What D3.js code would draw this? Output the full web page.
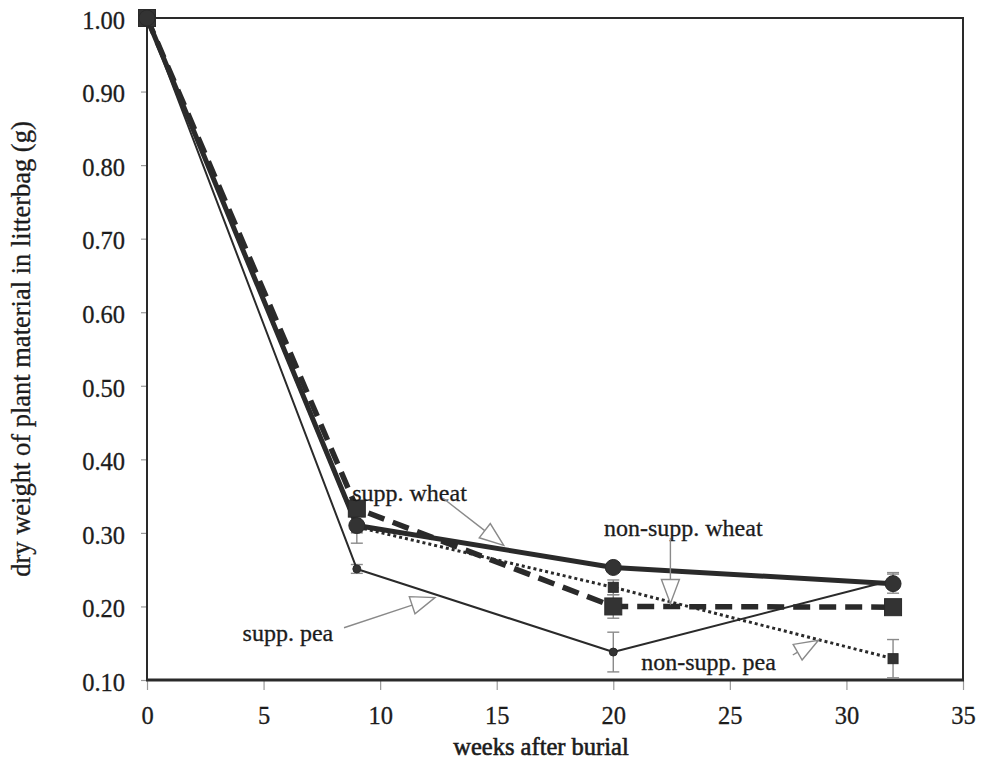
<!DOCTYPE html>
<html>
<head>
<meta charset="utf-8">
<script src="https://cdn.jsdelivr.net/npm/d3@7"></script>
<style>
  html, body { margin: 0; padding: 0; background: #fff; }
  svg { display: block; }
  text { font-family: "Liberation Serif", "Times New Roman", serif; fill: #1c1c1c; stroke: #1c1c1c; stroke-width: 0.3px; }
</style>
</head>
<body>
<svg id="chart" width="985" height="770"></svg>
<script>
// Sampling times (weeks after burial)
const weeks = [0, 9, 20, 32];

// Mean dry weight remaining in litterbags (g)
const suppWheat    = [1.00, 0.310, 0.253, 0.231];
const nonSuppWheat = [1.00, 0.333, 0.200, 0.199];
const suppPea      = [1.00, 0.251, 0.138, 0.236];
const nonSuppPea   = [1.00, 0.308, 0.226, 0.129];

// Standard errors
const suppWheatErr    = [0, 0.024, 0.006, 0.013];
const nonSuppWheatErr = [0, 0.010, 0.016, 0.008];
const suppPeaErr      = [0, 0.006, 0.027, 0.010];
const nonSuppPeaErr   = [0, 0.008, 0.010, 0.026];

// Axis ticks
const xTicks = [0, 5, 10, 15, 20, 25, 30, 35];
const yTicks = [0.10, 0.20, 0.30, 0.40, 0.50, 0.60, 0.70, 0.80, 0.90, 1.00];

// Series labels with their pointer arrows, in data units
const labelNames = ["supp. wheat", "supp. pea", "non-supp. wheat", "non-supp. pea"];
const labelAt    = [[8.8, 0.344], [4.1, 0.153], [19.6, 0.296], [21.2, 0.114]];
const arrowFrom  = [[12.7, 0.347], [8.45, 0.171], [22.45, 0.293], [27.7, 0.134]];
const arrowTo    = [[15.3, 0.283], [12.35, 0.212], [22.45, 0.204], [28.8, 0.154]];

const svg = d3.select("#chart");
const ink = "#2a2a2a";

const x = d3.scaleLinear().domain([0, 35]).range([147, 963]);
const y = d3.scaleLinear().domain([0.1, 1.0]).range([680, 18]);

// Axes
const xAxis = svg.append("g")
  .attr("transform", `translate(0,${y(0.1)})`)
  .call(d3.axisBottom(x).tickValues(xTicks).tickFormat(d3.format("d"))
    .tickSize(10).tickSizeOuter(0).tickPadding(17));
xAxis.select(".domain").remove();
xAxis.selectAll(".tick line").attr("stroke", "#9a9a9a").attr("stroke-width", 1.2);
xAxis.selectAll(".tick text").attr("font-size", 24.5);

const yAxis = svg.append("g")
  .attr("transform", `translate(${x(0)},0)`)
  .call(d3.axisLeft(y).tickValues(yTicks).tickFormat(d3.format(".2f"))
    .tickSize(6).tickSizeOuter(0).tickPadding(16));
yAxis.select(".domain").remove();
yAxis.selectAll(".tick line").attr("stroke", "#9a9a9a").attr("stroke-width", 1.2);
yAxis.selectAll(".tick text").attr("font-size", 24.5).attr("dy", "0.42em");

// Plot frame
svg.append("rect")
  .attr("x", x(0)).attr("y", y(1.0))
  .attr("width", x(35) - x(0)).attr("height", y(0.1) - y(1.0))
  .attr("fill", "none").attr("stroke", ink).attr("stroke-width", 2);
svg.append("line")
  .attr("x1", x(0) - 1).attr("x2", x(35) + 1)
  .attr("y1", y(0.1)).attr("y2", y(0.1))
  .attr("stroke", ink).attr("stroke-width", 3);

// Axis titles
svg.append("text")
  .attr("x", 541).attr("y", 755)
  .attr("text-anchor", "middle").attr("font-size", 24.5)
  .style("stroke-width", "0.6px")
  .text("weeks after burial");
svg.append("text")
  .attr("transform", `translate(30,${(y(0.1) + y(1.0)) / 2}) rotate(-90)`)
  .attr("text-anchor", "middle").attr("font-size", 26.5)
  .text("dry weight of plant material in litterbag (g)");

// Series definitions
const series = [
  { vals: suppPea,      err: suppPeaErr,      width: 2,   dash: null,    marker: "circle", size: 4 },
  { vals: nonSuppPea,   err: nonSuppPeaErr,   width: 3,   dash: "3,3",   marker: "square", size: 10 },
  { vals: nonSuppWheat, err: nonSuppWheatErr, width: 5.5, dash: "17,9",  marker: "square", size: 17 },
  { vals: suppWheat,    err: suppWheatErr,    width: 5,   dash: null,    marker: "circle", size: 8 }
];

const line = d3.line().x(d => x(d[0])).y(d => y(d[1]));

// Error bars
series.forEach(s => {
  const g = svg.append("g").attr("stroke", "#8a8a8a").attr("stroke-width", 1.4);
  weeks.forEach((w, i) => {
    const e = s.err[i];
    if (!e) return;
    const lo = Math.max(0.1, s.vals[i] - e), hi = s.vals[i] + e;
    g.append("line").attr("x1", x(w)).attr("x2", x(w)).attr("y1", y(lo)).attr("y2", y(hi));
    g.append("line").attr("x1", x(w) - 6).attr("x2", x(w) + 6).attr("y1", y(hi)).attr("y2", y(hi));
    if (lo > 0.1) g.append("line").attr("x1", x(w) - 6).attr("x2", x(w) + 6).attr("y1", y(lo)).attr("y2", y(lo));
  });
});

// Lines
series.forEach(s => {
  svg.append("path")
    .datum(weeks.map((w, i) => [w, s.vals[i]]))
    .attr("d", line)
    .attr("fill", "none")
    .attr("stroke", ink)
    .attr("stroke-width", s.width)
    .attr("stroke-linejoin", "round")
    .attr("stroke-dasharray", s.dash);
});

// Markers
series.forEach(s => {
  const g = svg.append("g").attr("fill", "#333").attr("stroke", ink).attr("stroke-width", 1);
  weeks.forEach((w, i) => {
    if (s.marker === "circle") {
      g.append("circle").attr("cx", x(w)).attr("cy", y(s.vals[i])).attr("r", s.size);
    } else {
      g.append("rect")
        .attr("x", x(w) - s.size / 2).attr("y", y(s.vals[i]) - s.size / 2)
        .attr("width", s.size).attr("height", s.size);
    }
  });
});

// Labels and hollow pointer arrows
labelNames.forEach((name, i) => {
  svg.append("text")
    .attr("x", x(labelAt[i][0])).attr("y", y(labelAt[i][1]))
    .attr("font-size", 24)
    .text(name);

  const x0 = x(arrowFrom[i][0]), y0 = y(arrowFrom[i][1]);
  const x1 = x(arrowTo[i][0]), y1 = y(arrowTo[i][1]);
  const ang = Math.atan2(y1 - y0, x1 - x0);
  const headLen = 24, headHalf = 9;
  const bx = x1 - headLen * Math.cos(ang), by = y1 - headLen * Math.sin(ang);
  const px = -Math.sin(ang) * headHalf, py = Math.cos(ang) * headHalf;

  svg.append("line")
    .attr("x1", x0).attr("y1", y0).attr("x2", bx).attr("y2", by)
    .attr("stroke", "#8a8a8a").attr("stroke-width", 1.4);
  svg.append("path")
    .attr("d", `M${x1},${y1}L${bx + px},${by + py}L${bx - px},${by - py}Z`)
    .attr("fill", "#fff").attr("stroke", "#8a8a8a").attr("stroke-width", 1.4);
});
</script>
</body>
</html>
